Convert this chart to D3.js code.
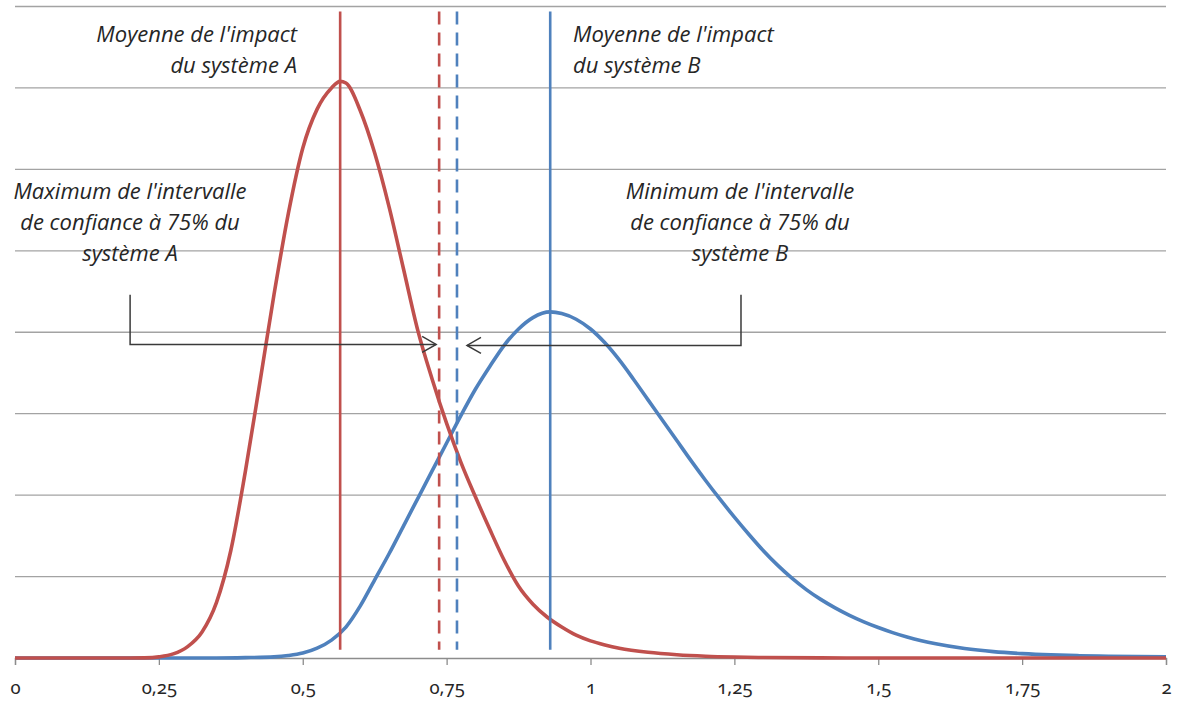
<!DOCTYPE html>
<html>
<head>
<meta charset="utf-8">
<script src="https://cdn.jsdelivr.net/npm/d3@7"></script>
<style>
  body { margin: 0; background: #fff; }
  svg text { font-family: "Open Sans", "Noto Sans", sans-serif; fill: #262626; }
  .note { font-style: italic; font-size: 22px; }
  .tick text { font-family: "Noto Sans", "Open Sans", sans-serif; font-size: 18.5px; font-variant-numeric: oldstyle-nums; fill: #262626; }
</style>
</head>
<body>
<svg id="chart" width="1177" height="704"></svg>
<script>
// Impact values (x) and density of system A (red curve)
const impactA = [0, 0.2, 0.225, 0.25, 0.275, 0.3, 0.325, 0.35, 0.375, 0.4, 0.425, 0.45, 0.475, 0.5,
  0.525, 0.55, 0.565, 0.575, 0.6, 0.625, 0.65, 0.675, 0.7, 0.725, 0.75, 0.775, 0.8, 0.825, 0.85,
  0.875, 0.9, 0.925, 0.95, 0.975, 1.0, 1.025, 1.05, 1.1, 1.15, 1.2, 1.25, 1.3, 1.4, 1.5, 2.0];
const densityA = [0, 0, 0.001, 0.007, 0.025, 0.07, 0.16, 0.34, 0.66, 1.14, 1.68, 2.23, 2.73, 3.13,
  3.37, 3.5, 3.54, 3.53, 3.36, 3.1, 2.77, 2.39, 2.01, 1.71, 1.44, 1.2, 0.99, 0.79, 0.6,
  0.44, 0.33, 0.25, 0.19, 0.14, 0.105, 0.08, 0.06, 0.035, 0.02, 0.011, 0.006, 0.003, 0.001, 0, 0];

// Impact values (x) and density of system B (blue curve)
const impactB = [0, 0.35, 0.4, 0.45, 0.475, 0.5, 0.525, 0.55, 0.575, 0.6, 0.625, 0.65, 0.675, 0.7,
  0.725, 0.75, 0.775, 0.8, 0.825, 0.85, 0.875, 0.9, 0.93, 0.95, 0.975, 1.0, 1.025, 1.05, 1.075,
  1.1, 1.125, 1.15, 1.175, 1.2, 1.225, 1.25, 1.275, 1.3, 1.325, 1.35, 1.375, 1.4, 1.425, 1.45,
  1.475, 1.5, 1.525, 1.55, 1.575, 1.6, 1.65, 1.7, 1.75, 1.8, 1.85, 1.9, 2.0];
const densityB = [0, 0, 0.002, 0.007, 0.015, 0.03, 0.06, 0.11, 0.19, 0.32, 0.48, 0.64, 0.81, 0.98,
  1.15, 1.32, 1.49, 1.65, 1.79, 1.92, 2.02, 2.09, 2.125, 2.115, 2.08, 2.02, 1.935, 1.83, 1.71,
  1.585, 1.46, 1.335, 1.21, 1.09, 0.975, 0.865, 0.76, 0.66, 0.57, 0.49, 0.42, 0.36, 0.308, 0.262,
  0.222, 0.187, 0.156, 0.129, 0.106, 0.087, 0.058, 0.039, 0.027, 0.019, 0.014, 0.011, 0.007];

// Reference values: means and bounds of the 75% confidence intervals
const meanA = 0.565;
const meanB = 0.93;
const ciMaxA = 0.737;
const ciMinB = 0.768;

// Axis ticks and horizontal gridlines
const xTicks = [0, 0.25, 0.5, 0.75, 1, 1.25, 1.5, 1.75, 2];
const yGrid = [0.5, 1, 1.5, 2, 2.5, 3, 3.5, 4];

const RED = "#C0504D", BLUE = "#4F81BD";
const svg = d3.select("#chart");

const x = d3.scaleLinear().domain([0, 2]).range([15, 1166]);
const y = d3.scaleLinear().domain([0, 4]).range([658, 6.5]);

const fr = d3.formatLocale({ decimal: ",", thousands: " ", grouping: [3], currency: ["", " €"] });
const fmt = fr.format("~g");

// gridlines
svg.append("g").selectAll("line").data(yGrid).join("line")
  .attr("x1", x(0)).attr("x2", x(2))
  .attr("y1", d => y(d)).attr("y2", d => y(d))
  .attr("stroke", "#a3a3a3").attr("stroke-width", 1.3);

// x axis
const axis = svg.append("g").attr("transform", `translate(0,${y(0)})`)
  .call(d3.axisBottom(x).tickValues(xTicks).tickFormat(fmt).tickSizeOuter(0).tickSize(7).tickPadding(16));
axis.select(".domain").attr("stroke", "#8c8c8c").attr("stroke-width", 1.3);
axis.selectAll(".tick line").attr("stroke", "#8c8c8c").attr("stroke-width", 1.3);

// density curves
const line = d3.line().x(d => x(d[0])).y(d => y(d[1])).curve(d3.curveMonotoneX);
svg.append("path").datum(d3.zip(impactB, densityB)).attr("d", line)
  .attr("fill", "none").attr("stroke", BLUE).attr("stroke-width", 3.6);
svg.append("path").datum(d3.zip(impactA, densityA)).attr("d", line)
  .attr("fill", "none").attr("stroke", RED).attr("stroke-width", 3.6);

// vertical reference lines
const vTop = 3.97, vBottom = 0.05;
const refs = [
  { v: meanA, c: RED, dash: null },
  { v: meanB, c: BLUE, dash: null },
  { v: ciMaxA, c: RED, dash: "13 8" },
  { v: ciMinB, c: BLUE, dash: "13 8" }
];
svg.append("g").selectAll("line").data(refs).join("line")
  .attr("x1", d => x(d.v)).attr("x2", d => x(d.v))
  .attr("y1", y(vTop)).attr("y2", y(vBottom))
  .attr("stroke", d => d.c).attr("stroke-width", 2.6)
  .attr("stroke-dasharray", d => d.dash);

// bracket arrows pointing at the confidence bounds
const arrowY = y(1.925), bracketTop = y(2.23);
const ink = "#3a3a3a";
const ga = svg.append("g").attr("fill", "none").attr("stroke", ink).attr("stroke-width", 1.5);
const leftStart = x(0.2), leftTip = x(ciMaxA) - 3;
ga.append("path").attr("d", `M${leftStart},${bracketTop}V${arrowY}H${leftTip}`);
ga.append("path").attr("d", `M${leftTip - 14},${arrowY - 8}L${leftTip},${arrowY}L${leftTip - 14},${arrowY + 8}`);
const rightStart = x(1.2615), rightTip = x(ciMinB) + 10;
ga.append("path").attr("d", `M${rightStart},${bracketTop}V${arrowY + 1}H${rightTip}`);
ga.append("path").attr("d", `M${rightTip + 14},${arrowY - 7}L${rightTip},${arrowY + 1}L${rightTip + 14},${arrowY + 9}`);

// annotations
function note(lines, px, py, anchor) {
  const t = svg.append("text").attr("class", "note").attr("text-anchor", anchor);
  lines.forEach((s, i) => t.append("tspan").attr("x", px).attr("y", py + i * 31).text(s));
}
note(["Moyenne de l'impact", "du système A"], 297, 42, "end");
note(["Moyenne de l'impact", "du système B"], 573, 42, "start");
note(["Maximum de l'intervalle", "de confiance à 75% du", "système A"], 130, 199, "middle");
note(["Minimum de l'intervalle", "de confiance à 75% du", "système B"], 740, 199, "middle");
</script>
</body>
</html>
